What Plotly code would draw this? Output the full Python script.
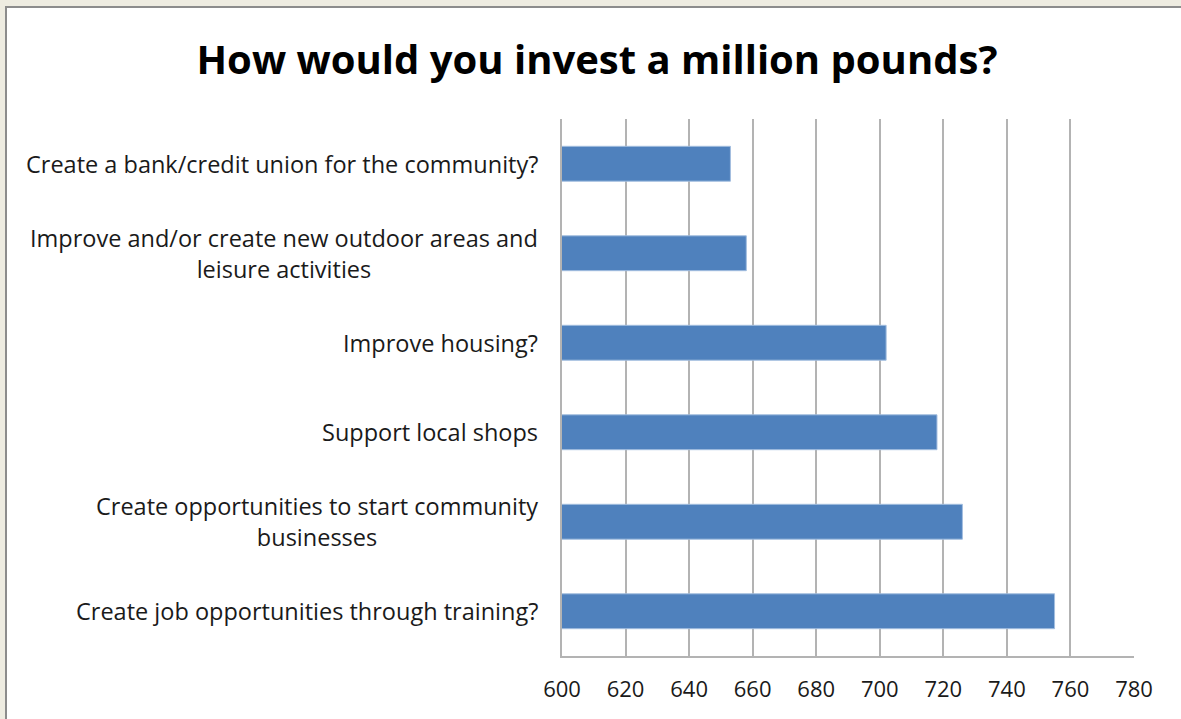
import plotly.graph_objects as go

categories = [
    "Create a bank/credit union for the community?",
    "Improve and/or create new outdoor areas and<br>leisure activities",
    "Improve housing?",
    "Support local shops",
    "Create opportunities to start community<br>businesses",
    "Create job opportunities through training?",
]
values = [653, 658, 702, 718, 726, 755]
x_ticks = [600, 620, 640, 660, 680, 700, 720, 740, 760, 780]
title_text = "How would you invest a million pounds?"

FONT = "Open Sans"
GRID = "#B3B3B3"

fig = go.Figure()
fig.add_trace(go.Bar(
    y=categories,
    x=values,
    orientation="h",
    width=0.39,
    marker=dict(color="#4F81BD", line=dict(color="#A3BEDF", width=1)),
    hoverinfo="x+y",
))

# category labels as centered, right-anchored annotations
for c in categories:
    fig.add_annotation(
        x=0, xref="paper", y=c, yref="y",
        text=c, showarrow=False, xanchor="right", yanchor="middle",
        align="center", xshift=-22,
        font=dict(family=FONT, size=23.5, color="#1a1a1a"),
    )

# card background with border
fig.add_shape(type="rect", xref="paper", yref="paper",
              x0=(6 - 562) / 572, x1=1.3, y0=-0.3, y1=(656 - 7) / 537,
              fillcolor="white", line=dict(color="#8C8C8C", width=2), layer="below")

fig.update_layout(
    width=1181, height=719,
    margin=dict(l=562, r=47, t=119, b=63),
    paper_bgcolor="#EEECE1",
    plot_bgcolor="rgba(0,0,0,0)",
    showlegend=False,
    title=dict(text="<b>" + title_text + "</b>", x=597 / 1181, xanchor="center",
               y=1 - 60 / 719, yanchor="middle", yref="container",
               font=dict(family=FONT, size=40, color="black")),
    xaxis=dict(range=[600, 780], tickvals=x_ticks, showgrid=True, gridcolor=GRID,
               gridwidth=1.5, zeroline=False, showline=True, linecolor=GRID, linewidth=1.5,
               ticks="", ticklabelstandoff=13,
               tickfont=dict(family=FONT, size=22, color="#1a1a1a")),
    yaxis=dict(categoryorder="array", categoryarray=categories, autorange="reversed",
               showticklabels=False, showgrid=False, zeroline=False,
               showline=True, linecolor=GRID, linewidth=1.5, ticks=""),
    bargap=0.61,
)

fig.write_html("out.html", config={"displayModeBar": False},
               post_script="document.body.style.margin='0';")
